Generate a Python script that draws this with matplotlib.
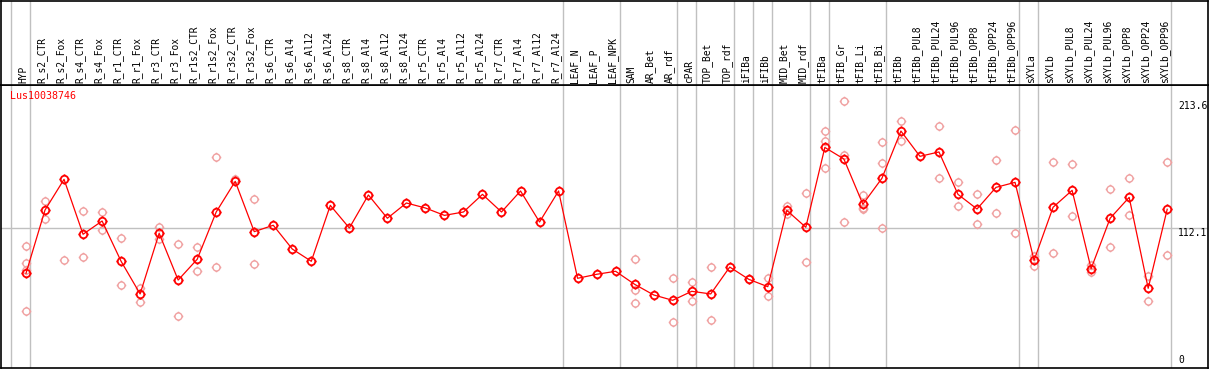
import matplotlib
matplotlib.use("Agg")
import matplotlib.pyplot as plt
from matplotlib.path import Path
import matplotlib.transforms as mtransforms
import numpy as np

# sample names (columns), left to right
samples = [
    "HYP", "R_s2_CTR", "R_s2_Fox", "R_s4_CTR", "R_s4_Fox", "R_r1_CTR", "R_r1_Fox",
    "R_r3_CTR", "R_r3_Fox", "R_r1s2_CTR", "R_r1s2_Fox", "R_r3s2_CTR", "R_r3s2_Fox",
    "R_s6_CTR", "R_s6_Al4", "R_s6_Al12", "R_s6_Al24", "R_s8_CTR", "R_s8_Al4",
    "R_s8_Al12", "R_s8_Al24", "R_r5_CTR", "R_r5_Al4", "R_r5_Al12", "R_r5_Al24",
    "R_r7_CTR", "R_r7_Al4", "R_r7_Al12", "R_r7_Al24", "LEAF_N", "LEAF_P", "LEAF_NPK",
    "SAM", "AR_Bet", "AR_rdf", "cPAR", "TOP_Bet", "TOP_rdf", "iFIBa", "iFIBb",
    "MID_Bet", "MID_rdf", "tFIBa", "tFIB_Gr", "tFIB_Li", "tFIB_Bi", "tFIBb",
    "tFIBb_PUL8", "tFIBb_PUL24", "tFIBb_PUL96", "tFIBb_OPP8", "tFIBb_OPP24",
    "tFIBb_OPP96", "sXYLa", "sXYLb", "sXYLb_PUL8", "sXYLb_PUL24", "sXYLb_PUL96",
    "sXYLb_OPP8", "sXYLb_OPP24", "sXYLb_OPP96",
]

# mean expression per sample
means = [
    75.7, 126.3, 150.8, 106.9, 117.5, 85.3, 59.2, 107.7, 70.3, 86.9, 124.7, 149.2,
    109.0, 114.1, 95.1, 85.3, 130.0, 111.9, 138.3, 119.7, 131.9, 127.9, 122.0,
    124.7, 138.8, 124.7, 141.5, 116.7, 141.5, 71.7, 74.9, 77.3, 66.9, 58.4, 54.1,
    61.3, 59.2, 80.7, 70.9, 65.0, 126.0, 112.5, 176.3, 167.1, 130.9, 151.6, 189.4,
    169.2, 172.7, 138.8, 127.1, 144.4, 148.4, 86.1, 128.5, 142.0, 79.4, 119.7,
    136.4, 63.7, 126.9,
]

# individual replicate values per sample
replicates = [
    [97.5, 84.0, 78.0, 45.6], [133.5, 119.1], [86.3], [125.5, 88.7], [124.5, 110.1],
    [103.7, 66.3], [64.2, 53.0], [112.7, 102.9], [98.9, 41.3], [96.5, 77.3],
    [168.4, 80.5], [151.3], [134.8, 82.9], [], [], [], [], [], [], [], [], [], [],
    [], [], [], [], [], [], [], [], [], [86.9, 62.1, 51.7], [], [71.7, 36.5],
    [68.5, 53.3], [80.7, 38.1], [], [71.5], [71.7, 57.3], [129.5, 123.3],
    [139.6, 84.5], [189.2, 181.2, 159.6], [213.4, 170.5, 116.5],
    [138.0, 127.3, 127.5], [180.4, 163.6, 111.7], [197.4, 181.5], [],
    [193.2, 151.9], [148.4, 129.2], [138.8, 114.9], [166.0, 123.7],
    [190.0, 107.7], [89.8, 81.8], [164.4, 91.7], [162.8, 121.3], [76.7, 82.1],
    [142.8, 96.5], [151.6, 122.0], [73.8, 53.6], [164.4, 90.1],
]

# columns after which a group separator is drawn
group_ends = [-1, 0, 28, 31, 34, 35, 37, 38, 39, 41, 42, 45, 52, 53, 60]

gene = "Lus10038746"
y_labels = [213.6, 112.1, 0]

W, H = 1209, 370
fig = plt.figure(figsize=(W / 100, H / 100), dpi=100)
fig.patch.set_facecolor("white")

mono = "DejaVu Sans Mono"
grid_col = "#c0c0c0"
red = "#ff0000"
pink = "#f0a0a0"

head_bottom = 85
ax = fig.add_axes([1 / W, 2 / H, 1207 / W, (368 - head_bottom) / H])
hx = fig.add_axes([1 / W, (H - head_bottom) / H, 1207 / W, (head_bottom - 0.5) / H], sharex=ax)

x = np.arange(len(samples))
xmin = (1 - 26) / 19.02
xmax = (1208 - 26) / 19.02
ax.set_xlim(xmin, xmax)
ax.set_ylim(0, (368 - head_bottom) / 1.251)

# marker: circle with four small ticks
circ = Path.unit_circle()
t = 1.35
tick_verts = [(0, 1), (0, t), (0, -1), (0, -t), (1, 0), (t, 0), (-1, 0), (-t, 0)]
tick_codes = [Path.MOVETO, Path.LINETO] * 4
marker = Path.make_compound_path(circ, Path(tick_verts, tick_codes))

for a in (ax, hx):
    for g in group_ends:
        a.axvline(g + 0.22, color=grid_col, lw=1.0, zorder=0)
    a.set_xticks([])
    a.set_yticks([])
    for s in a.spines.values():
        s.set_color("black")
        s.set_linewidth(1.2)

ax.axhline(112.1, color=grid_col, lw=1.0, zorder=0)

# replicates
rx, ry = [], []
for i, reps in enumerate(replicates):
    for v in reps:
        rx.append(i)
        ry.append(v)
ax.plot(rx, ry, ls="none", marker=marker, ms=6.9, mfc="none", mec=pink, mew=1.0, zorder=2)

# mean line
ax.plot(x, means, color=red, lw=0.9, zorder=3)
ax.plot(x, means, ls="none", marker=marker, ms=7.3, mfc="none", mec=red, mew=1.3, zorder=4)

ax.text(9 / 1207, 1 - 6 / 283, gene, transform=ax.transAxes, color=red,
        family=mono, fontsize=7.2, ha="left", va="top")

# right-side value labels
trans = mtransforms.blended_transform_factory(ax.transAxes, ax.transData)
for v in y_labels:
    if v == 0:
        ax.text(1177 / 1207, v + 2, "0", transform=trans, family=mono, fontsize=7,
                ha="left", va="bottom")
    else:
        ax.text(1177 / 1207, v - 0.5, f"{v:.1f}", transform=trans, family=mono,
                fontsize=7, ha="left", va="top")

# sample labels in the header
htrans = mtransforms.blended_transform_factory(hx.transData, hx.transAxes)
hx.set_ylim(0, 1)
for i, name in enumerate(samples):
    hx.text(i - 0.15, 2 / 85, name, transform=htrans, rotation=90, family=mono,
            fontsize=6.9, ha="center", va="bottom")

fig.savefig("out.png", dpi=100, facecolor="white")
